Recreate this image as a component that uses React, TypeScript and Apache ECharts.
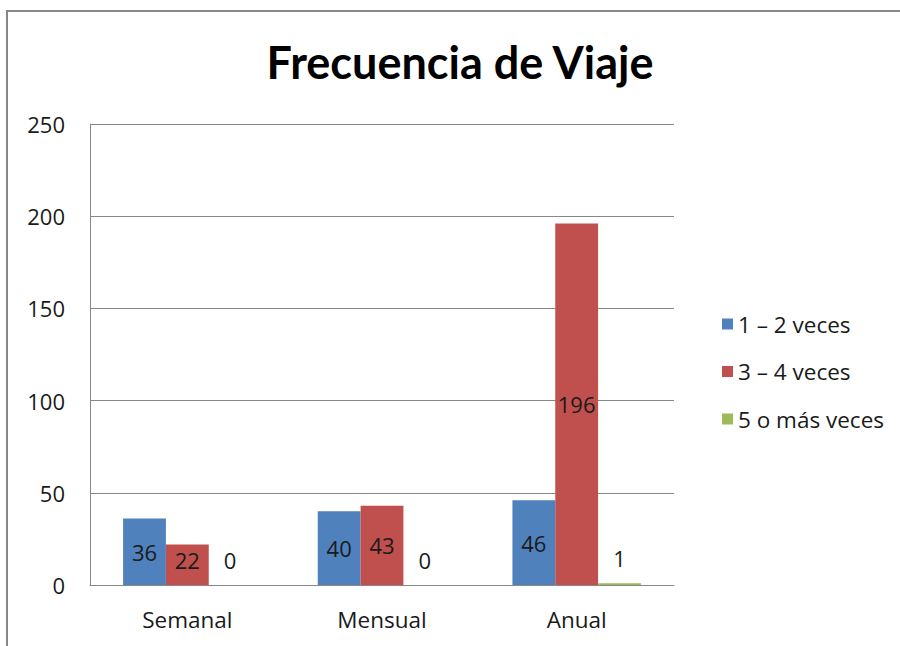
import React, { useEffect, useRef } from "react";
import * as echarts from "echarts";

const categories = ["Semanal", "Mensual", "Anual"];
const seriesNames = ["1 – 2 veces", "3 – 4 veces", "5 o más veces"];
const serie12 = [36, 40, 46];
const serie34 = [22, 43, 196];
const serie5 = [0, 0, 1];
const colors = ["#4F81BD", "#C0504D", "#9BBB59"];
const yTicks = [0, 50, 100, 150, 200, 250];

const FONT = "Open Sans";
const TITLE_FONT = "Lato";

function buildData(values: number[]) {
  return values.map((v) => {
    if (v < 5) {
      return { value: v, label: { position: "top", distance: 14 } };
    }
    if (v < 25) {
      return { value: v, label: { position: "inside", offset: [0, -5] } };
    }
    return { value: v };
  });
}

export default function App() {
  const ref = useRef<HTMLDivElement>(null);
  useEffect(() => {
    document.body.style.margin = "0";
    const chart = echarts.init(ref.current!, null, { renderer: "svg" });
    const all = [serie12, serie34, serie5];
    chart.setOption({
      animation: false,
      backgroundColor: "#ffffff",
      title: {
        text: "Frecuencia de Viaje",
        left: 455,
        textAlign: "center",
        top: 34,
        textStyle: { fontFamily: TITLE_FONT, fontWeight: "bold", fontSize: 45, color: "#000" },
      },
      graphic: [
        {
          type: "rect",
          shape: { x: 7, y: 11, width: 920, height: 680 },
          style: { fill: "none", stroke: "#878787", lineWidth: 2 },
          silent: true,
        },
      ],
      legend: {
        orient: "vertical",
        left: 717,
        top: 307,
        itemWidth: 11,
        itemHeight: 11,
        itemGap: 23.5,
        icon: "rect",
        textStyle: {
          fontFamily: FONT,
          fontSize: 22.5,
          lineHeight: 24,
          color: "#1a1a1a",
          padding: [0, 0, 0, 0],
        },
        data: seriesNames,
      },
      grid: { left: 90, right: 226, top: 124, bottom: 61, containLabel: false },
      xAxis: {
        type: "category",
        data: categories,
        axisLine: { lineStyle: { color: "#878787", width: 1 } },
        axisTick: { show: false },
        axisLabel: { fontFamily: FONT, fontSize: 22.5, color: "#1a1a1a", margin: 23 },
      },
      yAxis: {
        type: "value",
        min: yTicks[0],
        max: yTicks[yTicks.length - 1],
        interval: 50,
        axisLine: { show: true, lineStyle: { color: "#878787", width: 1 } },
        axisTick: { show: false },
        splitLine: { lineStyle: { color: "#878787", width: 1 } },
        axisLabel: { fontFamily: FONT, fontSize: 22, color: "#1a1a1a", margin: 25 },
      },
      series: seriesNames.map((name, i) => ({
        name,
        type: "bar",
        data: buildData(all[i]),
        itemStyle: { color: colors[i] },
        barGap: "0%",
        barCategoryGap: "34%",
        label: {
          show: true,
          position: "inside",
          fontFamily: FONT,
          fontSize: 22,
          color: "#1a1a1a",
        },
      })),
    });
    return () => chart.dispose();
  }, []);
  return <div ref={ref} style={{ width: 900, height: 646 }} />;
}
